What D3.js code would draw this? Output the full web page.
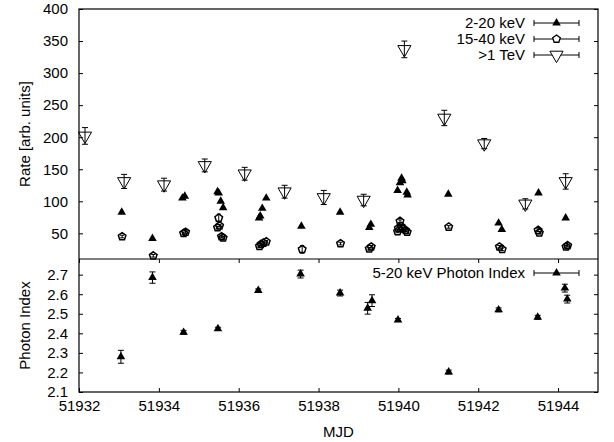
<!DOCTYPE html>
<html>
<head>
<meta charset="utf-8">
<script src="https://cdnjs.cloudflare.com/ajax/libs/d3/7.8.5/d3.min.js"></script>
<style>
  body { margin: 0; background: #fff; }
  text { font-family: "Liberation Sans", Arial, sans-serif; font-size: 15px; fill: #000; }
</style>
</head>
<body>
<div class="canvas"></div>
<script>
// 2-20 keV rate
const mjdSoft = [51933.07, 51933.84, 51934.59, 51934.65, 51935.47, 51935.50, 51935.55, 51935.61,
  51936.51, 51936.54, 51936.59, 51936.69, 51937.57, 51938.54, 51939.27, 51939.31,
  51939.98, 51940.04, 51940.08, 51940.10, 51940.21, 51940.23, 51941.25, 51942.51, 51942.59,
  51943.51, 51944.19]
const rateSoft = [83, 42, 105, 108, 115, 113, 100, 90,
  74, 77, 89, 105, 61, 83, 59, 64,
  117, 129, 136, 132, 114, 110, 111, 66, 56,
  113, 74]

// 15-40 keV rate
const mjdHard = [51933.08, 51933.86, 51934.62, 51934.67, 51935.50, 51935.47, 51935.52, 51935.57, 51935.61,
  51936.52, 51936.56, 51936.62, 51936.69, 51937.59, 51938.55, 51939.27, 51939.32,
  51939.98, 51940.00, 51940.04, 51940.07, 51940.11, 51940.18, 51940.22, 51941.26,
  51942.53, 51942.60, 51943.50, 51943.53, 51944.20, 51944.24]
const rateHard = [45, 15, 50, 52, 74, 59, 62, 45, 43,
  30, 33, 35, 37, 25, 34, 26, 29,
  53, 58, 69, 61, 57, 55, 52, 60,
  29, 25, 55, 51, 29, 31]
const errHard = [2, 2, 2, 2, 6, 2, 2, 2, 2,
  2, 2, 2, 2, 6, 2, 2, 2,
  2, 2, 2, 2, 2, 2, 2, 2,
  2, 2, 2, 2, 2, 2]

// >1 TeV rate
const mjdTeV = [51932.15, 51933.13, 51934.13, 51935.15, 51936.15, 51937.15, 51938.13,
  51939.13, 51940.15, 51941.15, 51942.15, 51943.18, 51944.19]
const rateTeV = [202, 131, 126, 156, 143, 115, 106, 102, 337, 230, 190, 96, 131]
const errTeV = [13, 11, 10, 10, 10, 10, 11, 9, 13, 12, 8, 8, 12]

// 5-20 keV photon index
const mjdIdx = [51933.05, 51933.84, 51934.62, 51935.48, 51936.49, 51937.55, 51938.54,
  51939.23, 51939.34, 51939.99, 51941.26, 51942.51, 51943.49, 51944.17, 51944.23]
const photonIdx = [2.28, 2.685, 2.405, 2.423, 2.619, 2.703, 2.606,
  2.528, 2.567, 2.468, 2.202, 2.52, 2.482, 2.631, 2.575]
const errIdx = [0.033, 0.029, 0.01, 0.008, 0.008, 0.02, 0.015,
  0.03, 0.03, 0.008, 0.01, 0.01, 0.01, 0.02, 0.02]

const rateTicks = [50, 100, 150, 200, 250, 300, 350, 400]
const idxTicks = [2.1, 2.2, 2.3, 2.4, 2.5, 2.6, 2.7]
const mjdTicks = [51932, 51934, 51936, 51938, 51940, 51942, 51944]

const width = 614, height = 442
const frame = { left: 79, right: 598, top: 9, mid: 259, bottom: 392 }

const svg = d3.select('.canvas').append('svg').attr('width', width).attr('height', height)

// scales
const x = d3.scaleLinear().domain([51932, 51945]).range([frame.left, frame.right])
const yRate = d3.scaleLinear().domain([10, 400]).range([frame.mid, frame.top])
const yIdx = d3.scaleLinear().domain([2.1, 2.78]).range([frame.bottom, frame.mid])

// axes (ticks pointing inward, mirrored)
const tk = 4
svg.append('g').attr('transform', `translate(${frame.left},0)`)
  .call(d3.axisLeft(yRate).tickValues(rateTicks).tickSize(-tk).tickPadding(11))
svg.append('g').attr('transform', `translate(${frame.right},0)`)
  .call(d3.axisRight(yRate).tickValues(rateTicks).tickSize(-tk).tickFormat(''))
svg.append('g').attr('transform', `translate(${frame.left},0)`)
  .call(d3.axisLeft(yIdx).tickValues(idxTicks).tickSize(-tk).tickPadding(11).tickFormat(d3.format('.1f')))
svg.append('g').attr('transform', `translate(${frame.right},0)`)
  .call(d3.axisRight(yIdx).tickValues(idxTicks).tickSize(-tk).tickFormat(''))
svg.append('g').attr('transform', `translate(0,${frame.bottom})`)
  .call(d3.axisBottom(x).tickValues(mjdTicks).tickSize(-tk).tickPadding(8).tickFormat(d3.format('d')))
svg.append('g').attr('transform', `translate(0,${frame.mid})`)
  .call(d3.axisTop(x).tickValues(mjdTicks).tickSize(-tk).tickFormat(''))

svg.selectAll('.domain').remove()
svg.selectAll('.tick line').attr('stroke', '#000').attr('stroke-width', 1)
svg.selectAll('.tick text').attr('font-family', '"Liberation Sans", Arial, sans-serif').attr('font-size', 15).attr('fill', '#000')

// frames
svg.append('rect').attr('x', frame.left).attr('y', frame.top)
  .attr('width', frame.right - frame.left).attr('height', frame.bottom - frame.top)
  .attr('fill', 'none').attr('stroke', '#000').attr('stroke-width', 1.2)
svg.append('line').attr('x1', frame.left).attr('x2', frame.right).attr('y1', frame.mid).attr('y2', frame.mid)
  .attr('stroke', '#000').attr('stroke-width', 1.2)

// axis titles
svg.append('text').attr('transform', `translate(30,${(frame.top + frame.mid) / 2}) rotate(-90)`)
  .attr('text-anchor', 'middle').text('Rate [arb. units]')
svg.append('text').attr('transform', `translate(30,${(frame.mid + frame.bottom) / 2}) rotate(-90)`)
  .attr('text-anchor', 'middle').text('Photon Index')
svg.append('text').attr('x', (frame.left + frame.right) / 2).attr('y', 437).attr('text-anchor', 'middle').text('MJD')

// symbol helpers
const triUp = d3.symbol().type(d3.symbolTriangle).size(32)
const triDown = d3.symbol().type(d3.symbolTriangle).size(75)
const pentagon = r => {
  const pts = d3.range(5).map(i => {
    const a = -Math.PI / 2 + i * 2 * Math.PI / 5
    return [r * Math.cos(a), r * Math.sin(a)]
  })
  return 'M' + pts.join('L') + 'Z'
}

const errBar = (g, xs, ys, es, yScale, cap) => {
  const bars = g.selectAll(null).data(xs.map((d, i) => ({ x: d, y: ys[i], e: es[i] }))).enter().append('g')
    .attr('stroke', '#000').attr('stroke-width', 1)
  bars.append('line').attr('x1', d => x(d.x)).attr('x2', d => x(d.x))
    .attr('y1', d => yScale(d.y - d.e)).attr('y2', d => yScale(d.y + d.e))
  bars.append('line').attr('x1', d => x(d.x) - cap).attr('x2', d => x(d.x) + cap)
    .attr('y1', d => yScale(d.y - d.e)).attr('y2', d => yScale(d.y - d.e))
  bars.append('line').attr('x1', d => x(d.x) - cap).attr('x2', d => x(d.x) + cap)
    .attr('y1', d => yScale(d.y + d.e)).attr('y2', d => yScale(d.y + d.e))
}

const plot = svg.append('g')

// >1 TeV
errBar(plot, mjdTeV, rateTeV, errTeV, yRate, 3)
plot.selectAll('.tev').data(mjdTeV).enter().append('path').attr('class', 'tev')
  .attr('d', triDown).attr('transform', (d, i) => `translate(${x(d)},${yRate(rateTeV[i])}) rotate(180)`)
  .attr('fill', 'none').attr('stroke', '#000').attr('stroke-width', 1)

// 15-40 keV
errBar(plot, mjdHard, rateHard, errHard, yRate, 2)
plot.selectAll('.hard').data(mjdHard).enter().append('path').attr('class', 'hard')
  .attr('d', pentagon(4)).attr('transform', (d, i) => `translate(${x(d)},${yRate(rateHard[i])})`)
  .attr('fill', 'none').attr('stroke', '#000').attr('stroke-width', 1.5)

// 2-20 keV
plot.selectAll('.soft').data(mjdSoft).enter().append('path').attr('class', 'soft')
  .attr('d', triUp).attr('transform', (d, i) => `translate(${x(d)},${yRate(rateSoft[i])})`)
  .attr('fill', '#000')

// photon index
errBar(plot, mjdIdx, photonIdx, errIdx, yIdx, 3)
plot.selectAll('.idx').data(mjdIdx).enter().append('path').attr('class', 'idx')
  .attr('d', triUp).attr('transform', (d, i) => `translate(${x(d)},${yIdx(photonIdx[i])})`)
  .attr('fill', '#000')

// legends
const legend = (y, label, sym) => {
  const g = svg.append('g')
  g.append('text').attr('x', 525).attr('y', y + 5).attr('text-anchor', 'end').text(label)
  g.append('line').attr('x1', 534).attr('x2', 579).attr('y1', y).attr('y2', y).attr('stroke', '#000')
  g.append('line').attr('x1', 534).attr('x2', 534).attr('y1', y - 3).attr('y2', y + 3).attr('stroke', '#000')
  g.append('line').attr('x1', 579).attr('x2', 579).attr('y1', y - 3).attr('y2', y + 3).attr('stroke', '#000')
  sym(g.append('g').attr('transform', `translate(556.5,${y})`))
}
legend(23, '2-20 keV', g => g.append('path').attr('d', triUp).attr('fill', '#000'))
legend(39, '15-40 keV', g => g.append('path').attr('d', pentagon(4)).attr('fill', '#fff').attr('stroke', '#000').attr('stroke-width', 1.3))
legend(55, '>1 TeV', g => g.append('path').attr('d', triDown).attr('transform', 'rotate(180)').attr('fill', '#fff').attr('stroke', '#000'))
legend(273, '5-20 keV Photon Index', g => g.append('path').attr('d', triUp).attr('fill', '#000'))
</script>
</body>
</html>
